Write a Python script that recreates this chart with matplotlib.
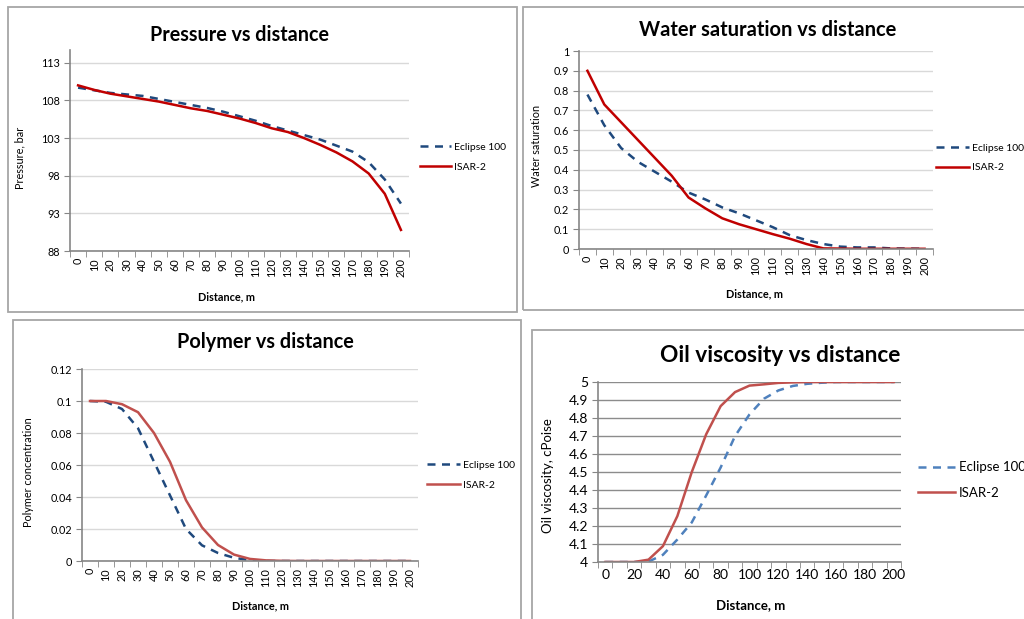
import numpy as np
import matplotlib
matplotlib.use("Agg")
import matplotlib.pyplot as plt
from matplotlib.patches import Rectangle
from matplotlib.ticker import FixedLocator, FuncFormatter

# ---------------- data ----------------
distance = [str(d) for d in range(0, 201, 10)]

pressure_eclipse = [109.7, 109.35, 109.0, 108.8, 108.6, 108.2, 107.8, 107.4, 107.0, 106.5,
                    105.9, 105.3, 104.6, 104.0, 103.4, 102.8, 102.0, 101.2, 99.8, 97.5, 94.3]
pressure_isar = [110.0, 109.4, 108.9, 108.55, 108.2, 107.85, 107.4, 106.95, 106.6, 106.1,
                 105.6, 105.0, 104.3, 103.8, 103.0, 102.1, 101.1, 99.9, 98.3, 95.6, 90.8]

sw_eclipse = [0.78, 0.625, 0.51, 0.44, 0.39, 0.34, 0.285, 0.25, 0.21, 0.18,
              0.145, 0.11, 0.07, 0.045, 0.025, 0.012, 0.008, 0.008, 0.003, 0.002, 0.001]
sw_isar = [0.90, 0.73, 0.64, 0.55, 0.46, 0.37, 0.26, 0.205, 0.155, 0.125,
           0.10, 0.075, 0.052, 0.025, 0.003, 0.002, 0.001, 0.001, 0.001, 0.001, 0.001]

poly_eclipse = [0.1, 0.0995, 0.095, 0.083, 0.062, 0.041, 0.020, 0.0098, 0.005, 0.002,
                0.0005, 0.0, 0.0, 0.0, 0.0, 0.0, 0.0, 0.0, 0.0, 0.0, 0.0]
poly_isar = [0.1, 0.1, 0.098, 0.093, 0.080, 0.062, 0.038, 0.021, 0.010, 0.004,
             0.0013, 0.0004, 0.0001, 0.0, 0.0, 0.0, 0.0, 0.0, 0.0, 0.0, 0.0]

visc_eclipse = [4.0, 4.0, 4.0, 4.002, 4.04, 4.125, 4.22, 4.37, 4.525, 4.70,
                4.82, 4.907, 4.953, 4.978, 4.99, 4.996, 5.0, 5.0, 5.0, 5.0, 5.0]
visc_isar = [4.0, 4.0, 4.0, 4.013, 4.088, 4.255, 4.50, 4.71, 4.866, 4.944,
             4.98, 4.987, 4.995, 4.998, 5.0, 5.0, 5.0, 5.0, 5.0, 5.0, 5.0]

series_names = ["Eclipse 100", "ISAR-2"]

# ---------------- figure ----------------
W, H = 1024, 619
fig = plt.figure(figsize=(W / 100, H / 100), dpi=100)
fig.patch.set_facecolor("white")
FONT = ["Lato", "DejaVu Sans"]
plt.rcParams["font.family"] = FONT


def fx(x):
    return x / W


def fy(y):
    return 1 - y / H


def add_box(l, t, r, b):
    fig.patches.append(Rectangle((fx(l), fy(b)), fx(r - l), (b - t) / H,
                                 transform=fig.transFigure, fill=False,
                                 edgecolor="#a6a6a6", linewidth=1.3, zorder=0))


def make_axes(l, t, r, b):
    return fig.add_axes([fx(l), fy(b), fx(r - l), (b - t) / H])


def style_axes(ax, ylim, yticks, grid_color, label_every, tick_fs, rot):
    ax.set_ylim(*ylim)
    ax.set_xlim(-0.5, len(distance) - 0.5)
    ax.yaxis.set_major_locator(FixedLocator(yticks))
    ax.yaxis.set_major_formatter(FuncFormatter(lambda v, p: f"{v:g}"))
    ax.grid(axis="y", color=grid_color, linewidth=1.0)
    ax.set_axisbelow(True)
    for s in ["top", "right"]:
        ax.spines[s].set_visible(False)
    for s in ["left", "bottom"]:
        ax.spines[s].set_color("#868686")
        ax.spines[s].set_linewidth(1.2)
    idx = list(range(0, len(distance), label_every))
    ax.xaxis.set_major_locator(FixedLocator(idx))
    ax.set_xticklabels([distance[i] for i in idx], rotation=rot, fontsize=tick_fs)
    ax.xaxis.set_minor_locator(FixedLocator(np.arange(-0.5, len(distance), 1.0)))
    ax.tick_params(axis="x", which="major", length=0, pad=5)
    ax.tick_params(axis="x", which="minor", length=4, color="#868686", direction="out")
    ax.tick_params(axis="y", length=4, color="#868686", direction="out", labelsize=tick_fs, pad=3)


def add_legend(ax, x, ymid, fs, hl):
    ax.legend(series_names, loc="center left", bbox_to_anchor=(fx(x), fy(ymid)),
              bbox_transform=fig.transFigure, frameon=False, fontsize=fs,
              handlelength=hl, handletextpad=0.3, labelspacing=1.0,
              borderpad=0, borderaxespad=0)


def add_texts(title, tx, ty, tfs, ylab, yx, yy, xlab, xx, xy, lfs):
    fig.text(fx(tx), fy(ty), title, ha="center", va="center", fontsize=tfs, fontweight="bold")
    fig.text(fx(yx), fy(yy), ylab, ha="center", va="center", rotation=90, fontsize=lfs)
    fig.text(fx(xx), fy(xy), xlab, ha="center", va="center", fontsize=lfs, fontweight="bold")


DASH = (3.2, 2.6)
LW = 1.8

# ---- Panel 1: pressure ----
add_box(8, 7, 517, 312)
ax1 = make_axes(70, 50, 409, 251)
ax1.plot(distance, pressure_eclipse, color="#1f497d", lw=LW, dashes=DASH)
ax1.plot(distance, pressure_isar, color="#c00000", lw=LW)
style_axes(ax1, (88, 114.7), [88, 93, 98, 103, 108, 113], "#d9d9d9", 1, 7.8, 90)
add_legend(ax1, 420, 157, 7.5, 3.0)
add_texts("Pressure vs distance", 240, 35, 14.2, "Pressure, bar", 20, 158,
          "Distance, m", 227, 297, 7.8)

# ---- Panel 2: water saturation ----
add_box(523, 7, 1030, 310)
ax2 = make_axes(579, 51, 933, 249)
ax2.plot(distance, sw_eclipse, color="#1f497d", lw=LW, dashes=DASH)
ax2.plot(distance, sw_isar, color="#c00000", lw=LW)
style_axes(ax2, (0, 1), list(np.round(np.arange(0, 1.01, 0.1), 1)), "#d9d9d9", 1, 7.8, 90)
add_legend(ax2, 936, 158, 7.5, 3.2)
add_texts("Water saturation vs distance", 768, 30, 14.5, "Water saturation", 537, 146,
          "Distance, m", 755, 294, 7.8)

# ---- Panel 3: polymer ----
add_box(13, 320, 521, 630)
ax3 = make_axes(82, 369, 418, 561)
ax3.plot(distance, poly_eclipse, color="#1f497d", lw=LW, dashes=DASH)
ax3.plot(distance, poly_isar, color="#c0504d", lw=LW)
style_axes(ax3, (0, 0.12), [0, 0.02, 0.04, 0.06, 0.08, 0.1, 0.12], "#d9d9d9", 1, 7.8, 90)
add_legend(ax3, 427, 475, 7.5, 3.2)
add_texts("Polymer vs distance", 265, 342, 14.3, "Polymer concentration", 29, 472,
          "Distance, m", 260, 606, 7.8)

# ---- Panel 4: oil viscosity ----
add_box(532, 330, 1030, 630)
ax4 = make_axes(598, 382, 901, 562)
ax4.plot(distance, visc_eclipse, color="#4f81bd", lw=LW, dashes=DASH)
ax4.plot(distance, visc_isar, color="#c0504d", lw=LW)
style_axes(ax4, (4, 5), list(np.round(np.arange(4, 5.01, 0.1), 1)), "#8c8c8c", 2, 10, 0)
add_legend(ax4, 918, 480, 9.5, 2.8)
add_texts("Oil viscosity vs distance", 780, 355, 16.3, "Oil viscosity, cPoise", 548, 476,
          "Distance, m", 751, 605, 9.5)

fig.savefig("out.png", dpi=100, facecolor="white")
